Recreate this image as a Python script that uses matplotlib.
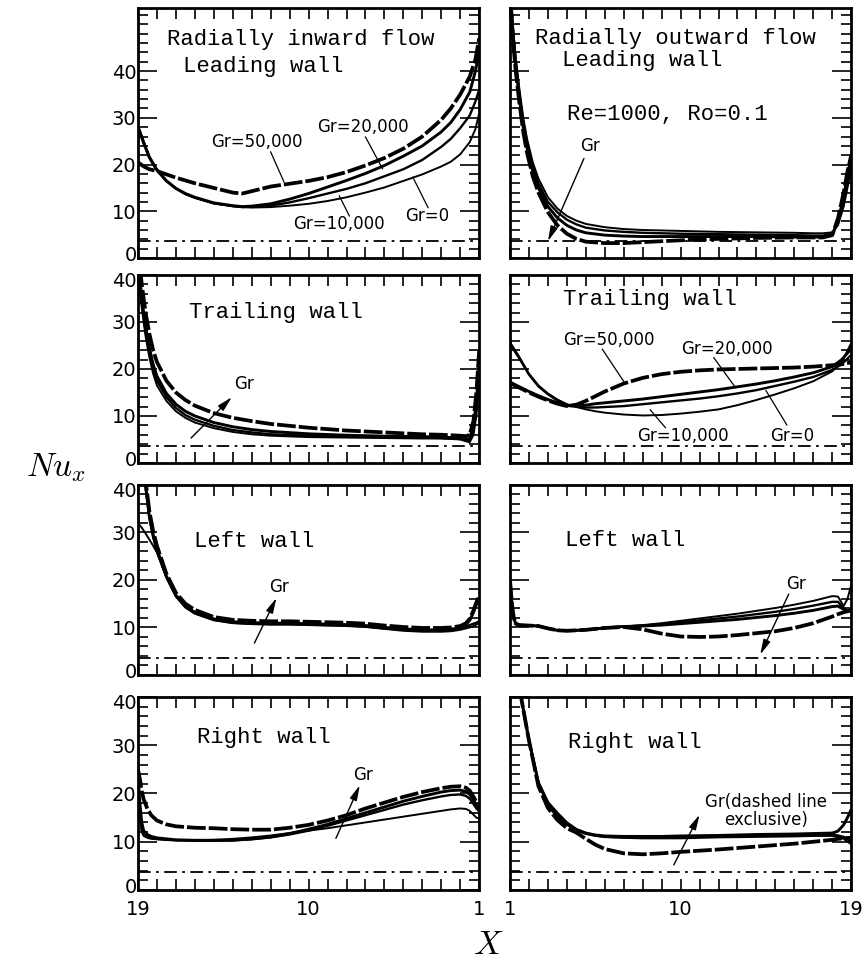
import matplotlib.pyplot as plt
from matplotlib.ticker import MultipleLocator
from matplotlib.transforms import ScaledTranslation

plt.rcParams['mathtext.fontset'] = 'cm'

# ---------------- data: Nu_x along the duct, Re=1000, Ro=0.1 ----------------
gr_names = ["Gr=0", "Gr=10,000", "Gr=20,000", "Gr=50,000"]

# radially inward flow, leading wall
in_lead_x = [19, 18.7, 18.4, 18, 17.5, 17, 16.5, 16, 15, 14, 13.5, 13, 12, 11, 10, 9, 8, 7, 6, 5, 4, 3, 2.5, 2, 1.5, 1.2, 1]
in_lead_gr0 = [28.4, 25.0, 21.8, 19.0, 16.6, 14.9, 13.7, 12.9, 11.7, 11.1, 10.9, 10.8, 10.9, 11.2, 11.6, 12.2, 13.0, 14.0, 15.1, 16.5, 17.9, 19.6, 20.6, 22.2, 24.8, 27.6, 31.0]
in_lead_gr10 = [28.2, 24.8, 21.6, 18.9, 16.5, 14.9, 13.7, 12.9, 11.7, 11.1, 10.9, 11.0, 11.2, 11.9, 12.8, 13.8, 14.8, 16.0, 17.5, 19.0, 21.0, 23.8, 25.5, 27.8, 30.5, 33.5, 36.0]
in_lead_gr20 = [28.0, 24.6, 21.5, 18.8, 16.5, 14.9, 13.8, 13.0, 11.8, 11.2, 11.0, 11.1, 11.6, 12.6, 13.8, 15.2, 16.6, 18.1, 19.8, 21.8, 24.0, 27.0, 29.0, 31.8, 35.5, 40.0, 44.0]
in_lead_gr50 = [20.5, 19.6, 19.0, 18.6, 17.9, 17.2, 16.6, 16.0, 15.0, 14.0, 13.8, 14.3, 15.3, 15.9, 16.5, 17.3, 18.4, 19.8, 21.4, 23.4, 26.0, 29.6, 32.0, 35.0, 38.8, 42.5, 47.0]

# radially outward flow, leading wall
out_lead_x = [1, 1.15, 1.3, 1.5, 1.7, 1.9, 2.2, 2.5, 3, 3.5, 4, 4.5, 5, 6, 7, 8, 10, 12, 14, 16, 17, 17.5, 18, 18.3, 18.6, 18.8, 19]
out_lead_gr0 = [60, 50, 43, 36, 30, 25.5, 20.5, 17, 13, 10.6, 9.0, 8.0, 7.3, 6.6, 6.2, 6.0, 5.8, 5.6, 5.5, 5.4, 5.3, 5.3, 5.5, 7.0, 11.0, 15.0, 19.0]
out_lead_gr10 = [59, 49, 42, 35, 29, 24.5, 19.5, 16, 12, 9.8, 8.2, 7.2, 6.5, 5.9, 5.6, 5.4, 5.2, 5.1, 5.0, 4.9, 4.8, 4.8, 5.2, 7.5, 12.0, 16.5, 20.5]
out_lead_gr20 = [58, 48, 41, 34, 28, 23.5, 18.5, 15, 11, 8.6, 7.0, 6.0, 5.4, 4.9, 4.7, 4.6, 4.6, 4.6, 4.6, 4.5, 4.5, 4.5, 5.0, 8.0, 13.0, 17.5, 21.5]
out_lead_gr50 = [57, 47, 40, 33, 27, 22.5, 17.5, 14, 9.8, 7.0, 5.2, 4.1, 3.5, 3.2, 3.2, 3.4, 3.8, 4.1, 4.3, 4.4, 4.4, 4.4, 4.9, 8.5, 14.0, 18.5, 22.0]

# radially inward flow, trailing wall
in_trail_x = [19, 18.8, 18.6, 18.4, 18.2, 18, 17.5, 17, 16.5, 16, 15, 14, 13, 12, 10, 8, 6, 4, 3, 2.5, 2, 1.7, 1.5, 1.3, 1.15, 1]
in_trail_gr0 = [42, 33, 27, 22.5, 19, 16.5, 13.2, 11, 9.6, 8.6, 7.4, 6.6, 6.1, 5.8, 5.5, 5.4, 5.3, 5.2, 5.2, 5.1, 5.0, 4.6, 4.4, 6.0, 10.0, 17.0]
in_trail_gr10 = [43, 34, 28, 23.5, 20, 17.5, 14, 11.7, 10.2, 9.2, 7.9, 7.0, 6.5, 6.1, 5.8, 5.6, 5.5, 5.4, 5.3, 5.2, 5.1, 4.8, 4.7, 7.0, 11.5, 19.0]
in_trail_gr20 = [44, 35, 29, 24.5, 21, 18.5, 14.8, 12.5, 11, 10, 8.6, 7.7, 7.1, 6.7, 6.2, 5.9, 5.7, 5.6, 5.5, 5.4, 5.3, 5.0, 5.2, 8.0, 13.0, 21.0]
in_trail_gr50 = [46, 38, 32, 27.5, 24, 21.5, 17.5, 15, 13.4, 12.2, 10.6, 9.6, 8.9, 8.3, 7.5, 6.9, 6.5, 6.1, 6.0, 5.9, 5.8, 5.7, 6.0, 9.0, 15.0, 24.0]

# radially outward flow, trailing wall
out_trail_x = [1, 1.5, 2, 2.5, 3, 3.5, 4, 4.5, 5, 5.5, 6, 7, 8, 9, 10, 11, 12, 13, 14, 15, 16, 17, 18, 18.5, 19]
out_trail_gr0 = [25.7, 22.5, 19.0, 16.5, 14.8, 13.5, 12.5, 11.9, 11.4, 11.0, 10.7, 10.3, 10.1, 10.2, 10.5, 10.9, 11.4, 12.3, 13.4, 14.6, 15.9, 17.4, 19.5, 21.5, 25.5]
out_trail_gr10 = [25.3, 22.2, 18.8, 16.3, 14.6, 13.3, 12.4, 12.0, 11.8, 11.8, 11.9, 12.1, 12.5, 12.9, 13.3, 13.7, 14.2, 14.8, 15.5, 16.4, 17.3, 18.3, 19.8, 21.0, 23.0]
out_trail_gr20 = [17.2, 16.2, 15.2, 14.3, 13.5, 12.8, 12.2, 12.1, 12.3, 12.6, 12.8, 13.2, 13.6, 14.1, 14.6, 15.1, 15.6, 16.2, 16.8, 17.5, 18.3, 19.2, 20.5, 22.0, 24.3]
out_trail_gr50 = [17.0, 16.0, 15.0, 14.1, 13.3, 12.6, 12.1, 12.4, 13.2, 14.2, 15.2, 16.9, 18.1, 18.9, 19.4, 19.7, 19.9, 20.0, 20.1, 20.2, 20.3, 20.5, 20.8, 21.0, 21.4]

# radially inward flow, left wall
in_left_x = [19, 18.8, 18.6, 18.4, 18.2, 18, 17.5, 17, 16.5, 16, 15, 14, 13, 12, 11, 10, 9, 8, 7, 6, 5, 4, 3, 2.5, 2, 1.7, 1.5, 1.3, 1.15, 1]
in_left_gr0 = [32, 31, 29.8, 28.5, 27.2, 25.8, 20.5, 16.5, 14.2, 12.9, 11.5, 10.9, 10.7, 10.6, 10.6, 10.5, 10.4, 10.3, 10.1, 9.7, 9.3, 9.1, 9.1, 9.2, 9.5, 9.8, 10.0, 10.3, 10.6, 11.0]
in_left_gr10 = [60, 47.5, 39.5, 33, 29, 26, 20.6, 16.6, 14.3, 13.0, 11.6, 11.0, 10.8, 10.7, 10.7, 10.6, 10.5, 10.4, 10.2, 9.8, 9.5, 9.3, 9.3, 9.4, 9.8, 10.2, 10.5, 10.8, 11.0, 11.3]
in_left_gr20 = [60, 48, 40, 33.5, 29.5, 26.5, 20.8, 16.8, 14.5, 13.2, 11.8, 11.2, 11.0, 10.9, 10.9, 10.8, 10.7, 10.6, 10.4, 10.0, 9.7, 9.5, 9.5, 9.6, 10.0, 10.6, 11.5, 13.2, 14.8, 16.0]
in_left_gr50 = [61, 49, 41, 34.5, 30.3, 27.2, 21.3, 17.3, 15.0, 13.7, 12.2, 11.6, 11.4, 11.3, 11.3, 11.2, 11.1, 11.0, 10.8, 10.4, 10.1, 9.9, 9.9, 10.0, 10.3, 10.9, 11.8, 13.6, 15.3, 16.6]

# radially outward flow, left wall
out_left_x = [1, 1.1, 1.2, 1.3, 1.5, 2, 2.5, 3, 3.5, 4, 5, 6, 7, 8, 9, 10, 11, 12, 13, 14, 15, 16, 17, 17.5, 18, 18.3, 18.6, 18.8, 19]
out_left_gr0 = [20, 15, 12, 10.8, 10.5, 10.4, 10.3, 9.8, 9.4, 9.3, 9.5, 9.9, 10.2, 10.5, 10.9, 11.4, 11.9, 12.4, 12.9, 13.5, 14.1, 14.8, 15.6, 16.1, 16.6, 16.5, 14.5, 16.0, 19.0]
out_left_gr10 = [20, 15, 12, 10.8, 10.5, 10.4, 10.3, 9.8, 9.4, 9.3, 9.5, 9.9, 10.2, 10.4, 10.7, 11.1, 11.5, 11.9, 12.3, 12.8, 13.3, 13.9, 14.6, 15.0, 15.4, 15.4, 14.0, 13.5, 13.5]
out_left_gr20 = [20, 15, 12, 10.8, 10.5, 10.4, 10.3, 9.8, 9.4, 9.3, 9.5, 9.9, 10.2, 10.3, 10.5, 10.8, 11.1, 11.4, 11.7, 12.1, 12.5, 13.0, 13.6, 14.0, 14.4, 14.5, 13.8, 13.4, 13.4]
out_left_gr50 = [20, 15, 12, 10.8, 10.5, 10.4, 10.3, 9.8, 9.4, 9.3, 9.5, 9.9, 10.1, 9.6, 8.7, 8.1, 8.0, 8.1, 8.4, 8.8, 9.2, 9.9, 10.9, 11.6, 12.3, 12.8, 13.2, 13.4, 13.8]

# radially inward flow, right wall
in_right_x = [19, 18.9, 18.8, 18.7, 18.5, 18.3, 18, 17.5, 17, 16, 15, 14, 13, 12, 11, 10, 9, 8, 7, 6, 5, 4, 3, 2.5, 2, 1.7, 1.5, 1.3, 1.15, 1]
in_right_gr0 = [22, 15, 12, 11.2, 10.8, 10.6, 10.5, 10.4, 10.3, 10.3, 10.4, 10.6, 10.9, 11.3, 11.8, 12.3, 12.8, 13.4, 14.0, 14.6, 15.2, 15.8, 16.4, 16.7, 16.9, 16.8, 16.4, 15.6, 15.0, 14.8]
in_right_gr10 = [23, 16, 12.5, 11.5, 11.0, 10.8, 10.6, 10.4, 10.3, 10.2, 10.2, 10.3, 10.5, 10.9, 11.5, 12.3, 13.3, 14.4, 15.5, 16.6, 17.7, 18.6, 19.4, 19.7, 19.8, 19.5, 18.9, 17.8, 16.9, 16.3]
in_right_gr20 = [24, 18, 14, 12.3, 11.5, 11.1, 10.8, 10.6, 10.4, 10.3, 10.3, 10.3, 10.6, 11.0, 11.7, 12.6, 13.6, 14.8, 16.0, 17.2, 18.4, 19.4, 20.3, 20.6, 20.7, 20.4, 19.8, 18.6, 17.6, 17.0]
in_right_gr50 = [25, 23, 20.5, 18.8, 16.8, 15.5, 14.4, 13.6, 13.2, 12.9, 12.8, 12.6, 12.5, 12.5, 12.9, 13.5, 14.4, 15.5, 16.9, 18.1, 19.3, 20.3, 21.1, 21.4, 21.5, 21.2, 20.6, 19.3, 18.3, 17.8]

# radially outward flow, right wall
out_right_x = [1, 1.3, 1.6, 2, 2.5, 3, 3.5, 4, 4.5, 5, 5.5, 6, 7, 8, 9, 10, 12, 14, 16, 17, 18, 18.3, 18.6, 18.8, 19]
out_right_gr0 = [55, 47, 39.6, 31, 22, 17.5, 15, 13.5, 12.3, 11.6, 11.2, 11.0, 10.8, 10.7, 10.7, 10.7, 10.9, 11.0, 11.1, 11.2, 11.2, 11.0, 10.6, 10.0, 9.5]
out_right_gr10 = [55, 47, 39.6, 31, 22.3, 18.2, 16, 14, 12.6, 11.8, 11.3, 11.0, 10.9, 10.9, 10.9, 11.0, 11.1, 11.2, 11.4, 11.5, 11.5, 11.3, 11.0, 10.5, 10.0]
out_right_gr20 = [55, 47, 39.6, 31, 22.2, 18.0, 15.6, 13.8, 12.5, 11.8, 11.4, 11.2, 11.1, 11.1, 11.1, 11.2, 11.3, 11.5, 11.6, 11.7, 11.8, 12.2, 13.5, 15.0, 16.7]
out_right_gr50 = [55, 47, 39.6, 31, 21.5, 17.0, 14.5, 12.8, 11.9, 10.6, 9.4, 8.5, 7.6, 7.4, 7.6, 7.9, 8.4, 9.0, 9.6, 10.0, 10.4, 10.6, 10.7, 10.8, 10.8]

nu_fd = 3.66  # fully developed value, dash-dot line

# ---------------- drawing ----------------
line_w = [1.4, 1.7, 2.1, 2.7]
line_s = ['-', '-', '-', (0, (5, 0.8))]

fig = plt.figure(figsize=(8.65, 9.73), dpi=100)

col_left = [0.1595, 0.5896]
col_w = 0.3945
rows = [(0.7348, 0.2570), (0.5242, 0.1932), (0.3063, 0.1953), (0.0853, 0.1984)]

panels = [
    (in_lead_x, [in_lead_gr0, in_lead_gr10, in_lead_gr20, in_lead_gr50]),
    (out_lead_x, [out_lead_gr0, out_lead_gr10, out_lead_gr20, out_lead_gr50]),
    (in_trail_x, [in_trail_gr0, in_trail_gr10, in_trail_gr20, in_trail_gr50]),
    (out_trail_x, [out_trail_gr0, out_trail_gr10, out_trail_gr20, out_trail_gr50]),
    (in_left_x, [in_left_gr0, in_left_gr10, in_left_gr20, in_left_gr50]),
    (out_left_x, [out_left_gr0, out_left_gr10, out_left_gr20, out_left_gr50]),
    (in_right_x, [in_right_gr0, in_right_gr10, in_right_gr20, in_right_gr50]),
    (out_right_x, [out_right_gr0, out_right_gr10, out_right_gr20, out_right_gr50]),
]

axes = []
for i, (xs, curves) in enumerate(panels):
    r, c = divmod(i, 2)
    b, h = rows[r]
    ax = fig.add_axes([col_left[c], b, col_w, h])
    axes.append(ax)
    for k, ys in enumerate(curves):
        ax.plot(xs, ys, color='k', lw=line_w[k], ls=line_s[k], solid_capstyle='butt')
    ax.axhline(nu_fd, color='k', lw=1.3, ls=(0, (7, 3, 1.5, 3)))

    if c == 0:
        ax.set_xlim(19, 1)
    else:
        ax.set_xlim(1, 19)
    ax.set_ylim(0, 53.5 if r == 0 else 40)

    ax.set_xticks(range(1, 20))
    if r == 3:
        ax.set_xticklabels([str(v) if v in (1, 10, 19) else '' for v in range(1, 20)])
    else:
        ax.set_xticklabels([])
    ax.set_yticks([0, 10, 20, 30, 40])
    ax.yaxis.set_minor_locator(MultipleLocator(2))
    if c == 1:
        ax.set_yticklabels([])

    ax.tick_params(which='both', direction='in', top=True, right=True, labelsize=14, width=1.2)
    ax.tick_params(axis='y', which='major', length=14, pad=1)
    ax.tick_params(axis='y', which='minor', length=7)
    ax.tick_params(axis='x', which='major', length=8, pad=7)
    for sp in ax.spines.values():
        sp.set_linewidth(2)

    # nudge the 0 label up and the 40 label down so stacked rows don't collide
    if c == 0:
        ylabs = ax.get_yticklabels()
        ylabs[0].set_transform(ylabs[0].get_transform() + ScaledTranslation(0, 3 / 72, fig.dpi_scale_trans))
        if r > 0:
            ylabs[-1].set_transform(ylabs[-1].get_transform() + ScaledTranslation(0, -3 / 72, fig.dpi_scale_trans))

ttl = dict(family='Liberation Mono', fontsize=16, ha='center', va='center')
lab = dict(family='DejaVu Sans', fontsize=12, ha='center', va='center')


def leader(ax, p0, p1):
    ax.plot([p0[0], p1[0]], [p0[1], p1[1]], color='k', lw=0.9)


def arrow(ax, tail, head):
    ax.annotate('', xy=head, xytext=tail,
                arrowprops=dict(arrowstyle='-|>,head_length=0.9,head_width=0.22',
                                color='k', lw=1.0, shrinkA=0, shrinkB=0))


# inward, leading
ax = axes[0]
ax.text(10.4, 46.7, "Radially inward flow", **ttl)
ax.text(12.4, 40.9, "Leading wall", **ttl)
ax.text(12.75, 24.8, gr_names[3], **lab)
leader(ax, (12.0, 22.7), (11.3, 16.3))
ax.text(7.15, 28.0, gr_names[2], **lab)
leader(ax, (7.0, 25.9), (6.1, 19.1))
ax.text(8.4, 7.2, gr_names[1], **lab)
leader(ax, (7.85, 9.0), (8.38, 13.3))
ax.text(3.76, 9.0, gr_names[0], **lab)
leader(ax, (3.7, 10.8), (4.5, 17.3))

# outward, leading
ax = axes[1]
ax.text(9.7, 46.9, "Radially outward flow", **ttl)
ax.text(7.96, 42.2, "Leading wall", **ttl)
ax.text(9.3, 30.8, "Re=1000, Ro=0.1", **ttl)
ax.text(5.2, 23.9, "Gr", **lab)
arrow(ax, (4.9, 21.3), (3.0, 3.6))

# inward, trailing
ax = axes[2]
ax.text(11.7, 32.0, "Trailing wall", **ttl)
ax.text(13.4, 16.8, "Gr", **lab)
arrow(ax, (16.2, 5.3), (14.05, 14.0))

# outward, trailing
ax = axes[3]
ax.text(8.4, 34.8, "Trailing wall", **ttl)
ax.text(6.24, 26.1, gr_names[3], **lab)
leader(ax, (5.87, 24.2), (7.04, 17.1))
ax.text(12.44, 24.2, gr_names[2], **lab)
leader(ax, (11.75, 22.4), (12.9, 16.0))
ax.text(10.1, 5.8, gr_names[1], **lab)
leader(ax, (9.2, 7.5), (8.4, 11.3))
ax.text(15.9, 5.8, gr_names[0], **lab)
leader(ax, (15.6, 8.1), (14.5, 15.4))

# inward, left wall
ax = axes[4]
ax.text(12.86, 28.0, "Left wall", **ttl)
ax.text(11.55, 18.5, "Gr", **lab)
arrow(ax, (12.86, 6.7), (11.7, 16.2))

# outward, left wall
ax = axes[5]
ax.text(7.1, 28.4, "Left wall", **ttl)
ax.text(16.06, 19.1, "Gr", **lab)
arrow(ax, (15.7, 17.0), (14.2, 4.3))

# inward, right wall
ax = axes[6]
ax.text(12.35, 31.7, "Right wall", **ttl)
ax.text(7.15, 23.8, "Gr", **lab)
arrow(ax, (8.56, 10.7), (7.3, 21.7))

# outward, right wall
ax = axes[7]
ax.text(7.6, 30.6, "Right wall", **ttl)
ax.text(14.5, 16.3, "Gr(dashed line\nexclusive)", linespacing=1.0, **lab)
arrow(ax, (9.64, 5.2), (11.0, 15.6))

fig.text(0.065, 0.52, r'$Nu_x$', fontsize=24, ha='center', va='center')
fig.text(0.564, 0.029, r'$X$', fontsize=24, ha='center', va='center')

fig.savefig('out.png', dpi=100)
